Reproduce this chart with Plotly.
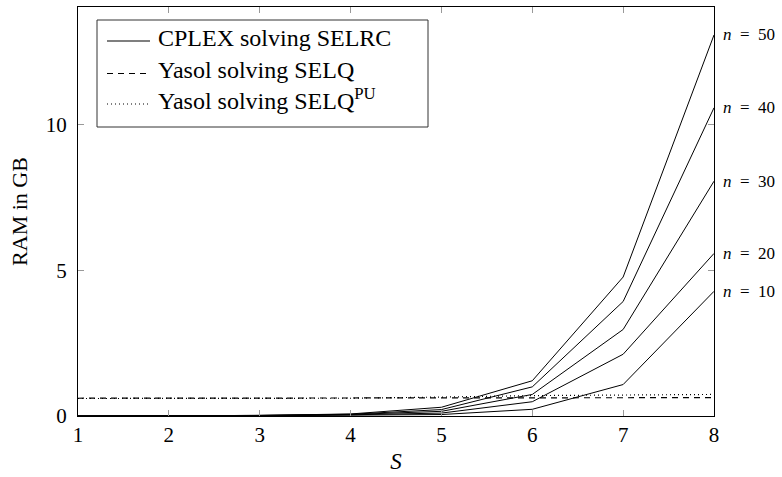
import plotly.graph_objects as go

# Number of scenarios S
S = [1, 2, 3, 4, 5, 6, 7, 8]

# Instance sizes n
sizes = [10, 20, 30, 40, 50]

# RAM (GB) used by CPLEX solving SELRC, one series per n
cplex_ram = {
    10: [0.0, 0.0, 0.01, 0.03, 0.05, 0.23, 1.08, 4.28],
    20: [0.0, 0.0, 0.01, 0.04, 0.10, 0.49, 2.12, 5.58],
    30: [0.0, 0.0, 0.02, 0.05, 0.16, 0.74, 2.97, 8.06],
    40: [0.0, 0.0, 0.02, 0.06, 0.22, 1.00, 3.93, 10.58],
    50: [0.0, 0.0, 0.02, 0.07, 0.30, 1.21, 4.77, 13.08],
}

# RAM (GB) used by Yasol
yasol_selq = [0.61, 0.61, 0.61, 0.62, 0.62, 0.62, 0.63, 0.63]
yasol_selq_pu = [0.60, 0.60, 0.60, 0.61, 0.65, 0.70, 0.72, 0.74]

legend_labels = [
    "CPLEX solving SELRC",
    "Yasol solving SELQ",
    "Yasol solving SELQ<sup>PU</sup>",
]

FONT = "Liberation Serif"
BLACK = "#000000"
DASHED = "6px,5px"
DOTTED = "1px,3px"

W, H = 782, 477
M_L, M_R, M_T, M_B = 78, 68, 7, 61
PW, PH = W - M_L - M_R, H - M_T - M_B


def px_x(px):
    """Pixel column -> paper x."""
    return (px - M_L) / PW


def px_y(py):
    """Pixel row -> paper y."""
    return (H - M_B - py) / PH


fig = go.Figure()

for n in sizes:
    fig.add_trace(go.Scatter(
        x=S, y=cplex_ram[n], mode="lines",
        line=dict(color=BLACK, width=1), showlegend=False,
        name=f"CPLEX n={n}",
    ))

fig.add_trace(go.Scatter(
    x=S, y=yasol_selq, mode="lines",
    line=dict(color=BLACK, width=1.2, dash=DASHED), showlegend=False,
    name="Yasol SELQ",
))
fig.add_trace(go.Scatter(
    x=S, y=yasol_selq_pu, mode="lines",
    line=dict(color=BLACK, width=1.2, dash=DOTTED), showlegend=False,
    name="Yasol SELQ PU",
))

annotations = []
shapes = []

# Labels for each n at the right end of the curves
for n in sizes:
    annotations.append(dict(
        x=S[-1], y=cplex_ram[n][-1], xref="x", yref="y",
        text=f"<i>n</i>\u2002=\u2002{n}", showarrow=False,
        xanchor="left", yanchor="middle", xshift=7,
        font=dict(family=FONT, size=17, color=BLACK),
    ))

# Legend box drawn in the upper left corner
box = dict(x0=97, x1=428, y0=20, y1=127)
shapes.append(dict(
    type="rect", xref="paper", yref="paper",
    x0=px_x(box["x0"]), x1=px_x(box["x1"]),
    y0=px_y(box["y1"]), y1=px_y(box["y0"]),
    line=dict(color="#333", width=1), fillcolor="white", layer="above",
))
row_baselines = [47, 79.5, 110]
row_dashes = ["solid", DASHED, DOTTED]
for label, base, dash in zip(legend_labels, row_baselines, row_dashes):
    ly = px_y(base - 6)
    shapes.append(dict(
        type="line", xref="paper", yref="paper",
        x0=px_x(107), x1=px_x(150), y0=ly, y1=ly,
        line=dict(color=BLACK, width=1.2, dash=dash), layer="above",
    ))
    annotations.append(dict(
        x=px_x(157), y=px_y(base + 5), xref="paper", yref="paper",
        text=label, showarrow=False, xanchor="left", yanchor="bottom",
        borderpad=0, font=dict(family=FONT, size=24, color=BLACK),
    ))

fig.update_layout(
    width=W, height=H,
    margin=dict(l=M_L, r=M_R, t=M_T, b=M_B),
    paper_bgcolor="white", plot_bgcolor="white",
    font=dict(family=FONT, size=21, color=BLACK),
    showlegend=False,
    annotations=annotations, shapes=shapes,
)

fig.update_xaxes(
    range=[1, 8], tickvals=S, ticks="inside", ticklen=6, tickcolor="#999",
    showgrid=False, zeroline=False, showline=True, linecolor=BLACK,
    linewidth=1, mirror="ticks",
    title=dict(text="<i>S</i>", standoff=6, font=dict(size=23)),
    tickfont=dict(size=21),
)
fig.update_yaxes(
    range=[0, 14.04], tickvals=[0, 5, 10], ticks="inside", ticklen=6,
    tickcolor="#999", showgrid=False, zeroline=False, showline=True,
    linecolor=BLACK, linewidth=1, mirror="ticks", ticklabelstandoff=6,
    title=dict(text="RAM in GB", standoff=12, font=dict(size=22)),
    tickfont=dict(size=21),
)

fig.write_html("out.html")
